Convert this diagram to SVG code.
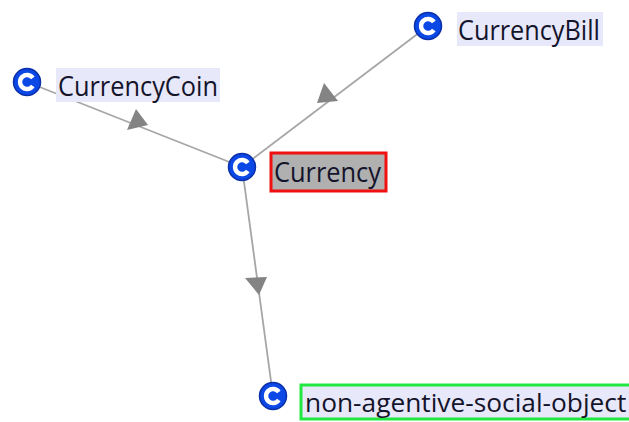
<svg xmlns="http://www.w3.org/2000/svg" width="629" height="422" viewBox="0 0 629 422">
<style>
text{font-family:"Open Sans","Noto Sans","DejaVu Sans",sans-serif;font-size:27px;fill:#14142a}
.fit{font-size:26.3px}
.edge{stroke:#a6a6a6;stroke-width:1.8;fill:none}
.head{fill:#848484;stroke:none}
.lab{fill:#e8e8fb}
.disc{fill:#0c48e6;stroke:#0a2fa8;stroke-width:1.5}
.c{fill:none;stroke:#fff;stroke-width:4.4}
</style>
<defs>
<g id="cicon">
<circle class="disc" r="13.5"/>
<path class="c" d="M5.8 -4A7 7 0 1 0 5.8 4"/>
</g>
</defs>
<rect width="629" height="422" fill="#fff"/>
<g id="connectors">
<path class="edge" d="M27 82L242 167"/>
<path class="edge" d="M428 26L242 167"/>
<path class="edge" d="M242 167L273 396"/>
<polygon class="head" points="136,109 127,130 148,125"/>
<polygon class="head" points="324,83 317,103 338,101"/>
<polygon class="head" points="245,278 267,277 259,295"/>
</g>
<g id="node-coin">
<use href="#cicon" x="27" y="82"/>
<rect class="lab" x="56" y="68" width="164" height="34"/>
<text x="58" y="96" textLength="160" lengthAdjust="spacingAndGlyphs">CurrencyCoin</text>
</g>
<g id="node-bill">
<use href="#cicon" x="428" y="26"/>
<rect class="lab" x="457" y="12" width="146" height="34"/>
<text x="458" y="40" textLength="142" lengthAdjust="spacingAndGlyphs">CurrencyBill</text>
</g>
<g id="node-currency">
<use href="#cicon" x="242" y="167"/>
<rect x="271" y="153" width="115" height="38" fill="#b0b0b0" stroke="#f01010" stroke-width="3"/>
<text x="274" y="182" textLength="107" lengthAdjust="spacingAndGlyphs">Currency</text>
</g>
<g id="node-object">
<use href="#cicon" x="273" y="396"/>
<rect class="lab" x="301" y="385" width="328" height="34"/>
<path d="M629 385H301V419H629" fill="none" stroke="#20e840" stroke-width="3"/>
<text class="fit" x="305" y="412">non-agentive-social-object</text>
</g>
</svg>
